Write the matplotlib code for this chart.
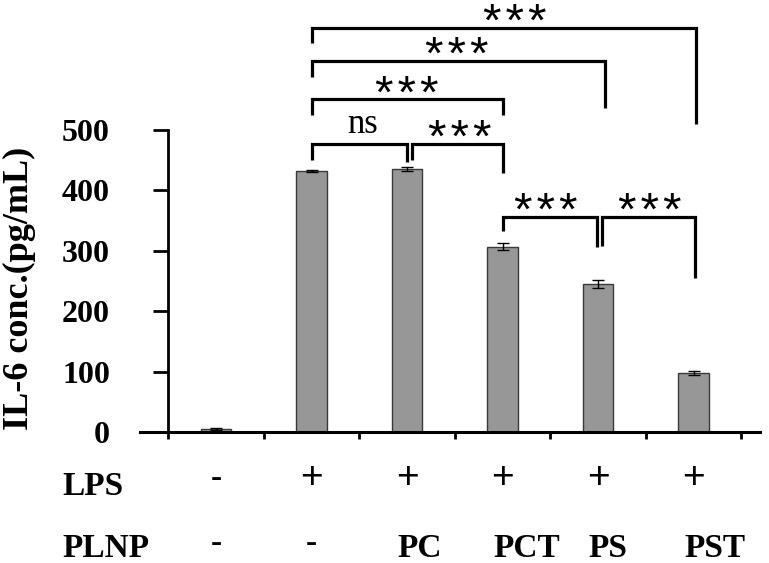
import matplotlib
matplotlib.use("Agg")
import matplotlib.pyplot as plt
import matplotlib.transforms as mtransforms

# ---- data ----
groups = ["Ctrl", "LPS", "PC", "PCT", "PS", "PST"]
il6_values = [5, 432, 435, 307, 245, 98]
il6_errors = [2, 1, 3, 6, 6, 3]
lps_row = ["-", "+", "+", "+", "+", "+"]
plnp_row = ["-", "-", "PC", "PCT", "PS", "PST"]
y_ticks = [0, 100, 200, 300, 400, 500]

# comparisons: (left idx, right idx, label, bracket height, left leg bottom, right leg bottom, label x-shift)
comparisons = [
    (1.0, 5.03, "***", 669, 644, 510, 0.11),
    (1.0, 4.07, "***", 614, 588, 536, -0.01),
    (1.0, 3.0, "***", 551, 525, 525, 0.0),
    (1.0, 2.0, "ns", 477, 450, 447, 0.04),
    (2.05, 3.0, "***", 477, 450, 429, 0.03),
    (3.0, 3.99, "***", 356, 333, 306, -0.04),
    (4.04, 5.02, "***", 356, 308, 255, 0.01),
]

W, H = 769, 563
fig = plt.figure(figsize=(W / 100, H / 100), dpi=100)
ax = fig.add_axes([140 / W, (H - 432) / H, 620 / W, 432 / H])

x = list(range(len(groups)))
ax.bar(x, il6_values, width=0.32, color="#979797", edgecolor="#3a3a3a", linewidth=1.0, zorder=2)
ax.errorbar(x, il6_values, yerr=il6_errors, fmt="none", ecolor="black", elinewidth=1.0,
            capsize=4, capthick=1.0, zorder=3)

ax.set_xlim(-0.796, 5.696)
ax.set_ylim(0, 715)

for s in ["top", "right"]:
    ax.spines[s].set_visible(False)
ax.spines["left"].set_position(("data", -0.5))
ax.spines["left"].set_bounds(0, 500)
ax.spines["left"].set_linewidth(2)
ax.spines["bottom"].set_linewidth(2.2)

ax.set_yticks(y_ticks)
ax.set_yticklabels([str(v) for v in y_ticks], fontfamily="Liberation Serif", fontweight="bold", fontsize=23)
ax.tick_params(axis="y", direction="out", length=11, width=2, pad=31)
ax.set_xticks([i - 0.5 for i in range(len(groups) + 1)])
ax.set_xticklabels([])
ax.tick_params(axis="x", direction="out", length=5, width=2)

ax.set_ylabel("IL-6 conc.(pg/mL)", fontfamily="Liberation Serif", fontweight="bold", fontsize=26)
ax.yaxis.set_label_coords(-0.168, 0.333)

# brackets
for (a, b, lab, top, la, lb, dx) in comparisons:
    ax.plot([a, a, b, b], [la, top, top, lb], color="black", lw=2.3, solid_joinstyle="miter",
            solid_capstyle="butt", clip_on=False, zorder=4)
    xm = (a + b) / 2 + dx
    if lab == "ns":
        ax.text(xm, top + 18, lab, ha="center", va="baseline", fontfamily="Liberation Serif",
                fontsize=25)
    else:
        ax.text(xm, top - 14, "\u200a".join(lab), ha="center", va="baseline",
                fontfamily="Liberation Sans", fontsize=34, clip_on=False)

# condition rows below the axis
trans = mtransforms.blended_transform_factory(ax.transData, fig.transFigure)
fig.text(62 / W, (H - 495) / H, "LPS", fontfamily="Liberation Serif", fontweight="bold",
         fontsize=24, va="baseline", ha="left")
fig.text(62 / W, (H - 557) / H, "PLNP", fontfamily="Liberation Serif", fontweight="bold",
         fontsize=24, va="baseline", ha="left")
for i, (s1, s2) in enumerate(zip(lps_row, plnp_row)):
    if s1 == "+":
        ax.text(i, (H - 488) / H, s1, transform=trans, ha="center", va="baseline",
                fontfamily="Liberation Sans", fontsize=28)
    else:
        ax.text(i, (H - 487) / H, s1, transform=trans, ha="center", va="baseline",
                fontfamily="Liberation Serif", fontweight="bold", fontsize=24)
    if s2 == "-":
        ax.text(i, (H - 552) / H, s2, transform=trans, ha="center", va="baseline",
                fontfamily="Liberation Serif", fontweight="bold", fontsize=24)
    else:
        ax.text(i - 0.1, (H - 557) / H, s2, transform=trans, ha="left", va="baseline",
                fontfamily="Liberation Serif", fontweight="bold", fontsize=24)

fig.savefig("out.png", dpi=100)
